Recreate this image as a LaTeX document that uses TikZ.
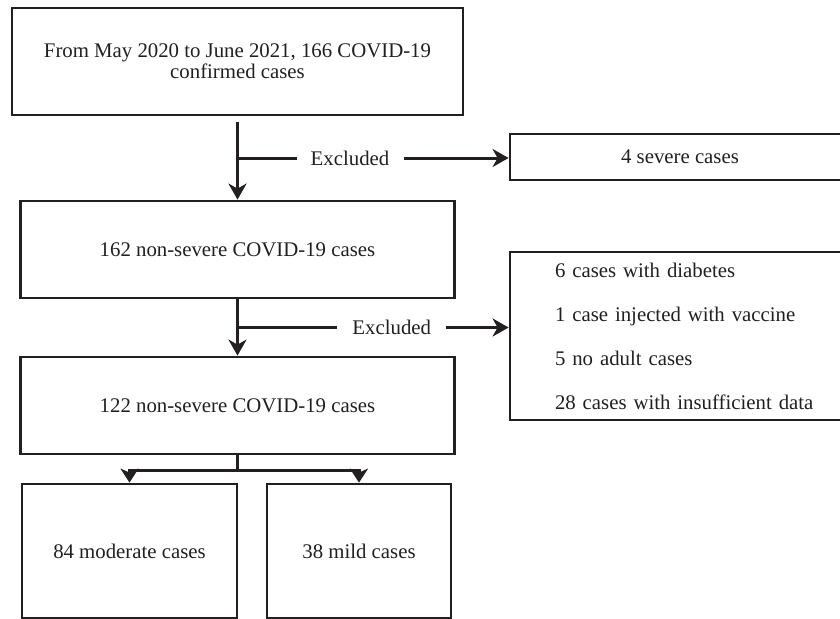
\documentclass[tikz,border=0pt]{standalone}
\usepackage{fontspec}
\setmainfont{Liberation Serif}
\usetikzlibrary{arrows.meta,calc}
\definecolor{ink}{HTML}{231F20}
\tikzstyle{box} = [rectangle, draw=ink, line width=2.8pt, text=ink, text centered, minimum height=97pt]
\tikzstyle{startbox} = [box, minimum width=451pt, minimum height=107pt, align=center]
\tikzstyle{stagebox} = [box, minimum width=434pt]
\tikzstyle{excludebox} = [box, minimum width=340pt, minimum height=46pt]
\tikzstyle{listbox} = [box, text width=260pt, inner xsep=45pt, align=left, minimum height=168pt, font=\fontsize{20.8}{44}\selectfont]
\tikzstyle{groupbox} = [box, minimum height=134pt]
\tikzstyle{arrow} = [draw=ink, line width=3pt, -{Stealth[length=16pt, width=18pt, inset=5pt]}]
\tikzstyle{splitarrow} = [arrow, -{Stealth[length=14pt, width=18pt, inset=4pt]}]
\tikzstyle{gap} = [fill=white, text=ink, inner sep=0pt]

\begin{document}
\begin{tikzpicture}[node distance=160pt, font=\fontsize{20.8}{21}\selectfont]
\clip (-237.5pt,61.5pt) rectangle (602.5pt,-556.5pt);
\node (n1) [startbox] {From May 2020 to June 2021, 166 COVID-19\\confirmed cases};
\node (n2) [stagebox, below of=n1, yshift=-28pt] {162 non-severe COVID-19 cases};
\node (n3) [stagebox, below of=n2, yshift=4pt] {122 non-severe COVID-19 cases};
\node (n4) [groupbox, minimum width=215pt, below of=n3, xshift=-108pt, yshift=14.5pt] {84 moderate cases};
\node (n5) [groupbox, minimum width=184pt, below of=n3, xshift=121.5pt, yshift=14.5pt] {38 mild cases};
\node (n6) [excludebox, right of=n1, xshift=282.5pt, yshift=-95.5pt] {4 severe cases};
\node (n7) [listbox, right of=n2, xshift=287.5pt, yshift=-86.5pt] {6 cases with diabetes\\1 case injected with vaccine\\5 no adult cases\\28 cases with insufficient data};

\coordinate (c1) at ($(n1.south)!0.5!(n2.north)$);
\coordinate (c2) at ($(n2.south)!0.5!(n3.north)$);

\draw [arrow, shorten <=6pt] (n1) -- (n2);
\draw [arrow] (c1) -- node [gap, pos=0.415, minimum width=107pt] {Excluded} (c1 -| n6.west);
\draw [arrow] (n2) -- (n3);
\draw [arrow] (c2) -- node [gap, pos=0.569, minimum width=109pt] {Excluded} (c2 -| n7.west);
\draw [splitarrow] (n3.south) -- ++(0,-15pt) -| (n4.north);
\draw [splitarrow] (n3.south) -- ++(0,-15pt) -| (n5.north);

\end{tikzpicture}
\end{document}
